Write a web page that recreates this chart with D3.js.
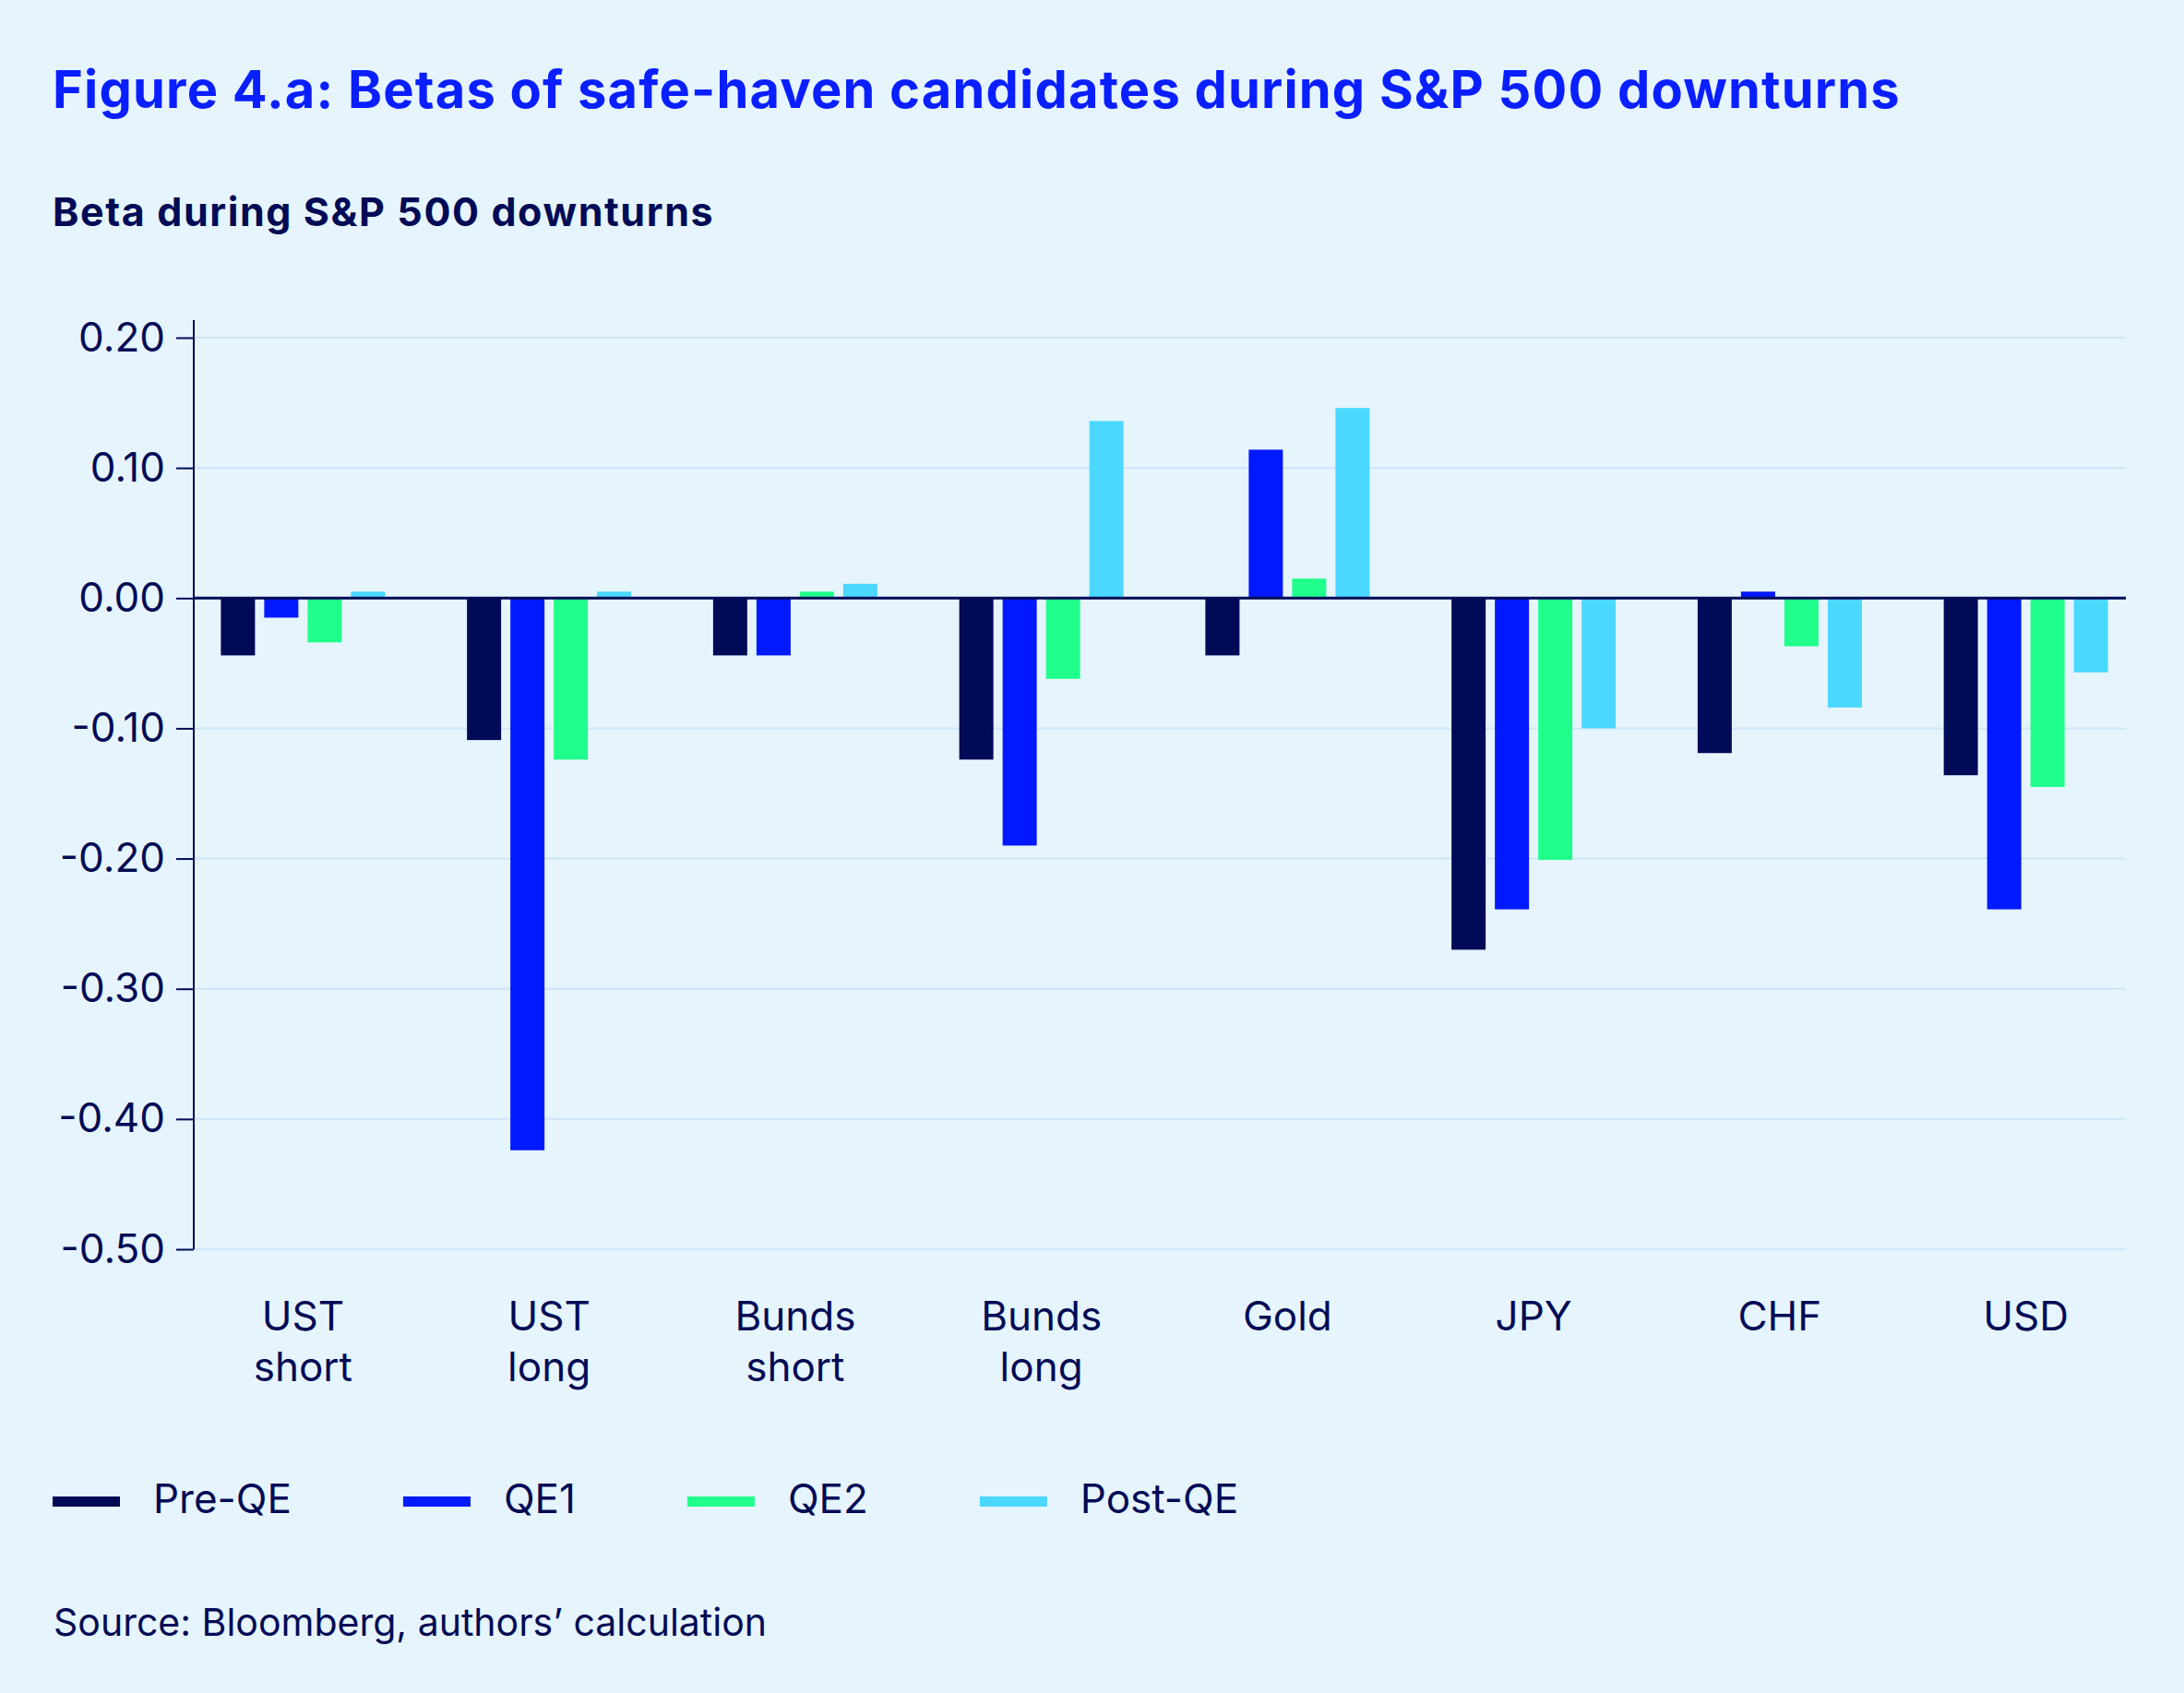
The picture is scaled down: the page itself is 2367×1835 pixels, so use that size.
<!DOCTYPE html>
<html lang="en">
  <head>
    <meta charset="UTF-8" />
    <script src="https://d3js.org/d3.v7.min.js"></script>
    <style>
      body {
        margin: 0;
        background: #e6f4fd;
      }
      text {
        font-family: Inter, "Noto Sans", sans-serif;
        fill: #020b55;
      }
    </style>
    <title>Figure 4.a</title>
  </head>
  <body>
    <svg id="chart" width="2367" height="1835"></svg>
    <script>
      // chart values
      const categories = [
        "UST short",
        "UST long",
        "Bunds short",
        "Bunds long",
        "Gold",
        "JPY",
        "CHF",
        "USD",
      ];
      const seriesNames = ["Pre-QE", "QE1", "QE2", "Post-QE"];
      const preQE = [-0.044, -0.109, -0.044, -0.124, -0.044, -0.27, -0.119, -0.136];
      const qe1 = [-0.015, -0.424, -0.044, -0.19, 0.114, -0.239, 0.005, -0.239];
      const qe2 = [-0.034, -0.124, 0.005, -0.062, 0.015, -0.201, -0.037, -0.145];
      const postQE = [0.005, 0.005, 0.011, 0.136, 0.146, -0.1, -0.084, -0.057];
      const yTicks = [0.2, 0.1, 0.0, -0.1, -0.2, -0.3, -0.4, -0.5];
      const colors = ["#010a56", "#0019ff", "#20ff8b", "#4bd8ff"];

      const seriesValues = [preQE, qe1, qe2, postQE];
      const rows = [];
      categories.forEach((c, i) => {
        seriesNames.forEach((s, j) => {
          rows.push({ cat: c, series: s, value: seriesValues[j][i] });
        });
      });

      const svg = d3.select("#chart");
      const plotLeft = 210,
        plotRight = 2304;

      const y = d3.scaleLinear().domain([-0.5, 0.2]).range([1354, 366]);
      const x = d3.scaleBand().domain(categories).range([195, 2329]).padding(0);
      const inner = d3
        .scaleBand()
        .domain(seriesNames)
        .range([-89, 89])
        .paddingInner(0.213)
        .paddingOuter(0);
      const color = d3.scaleOrdinal().domain(seriesNames).range(colors);

      // title + subtitle
      svg
        .append("text")
        .attr("x", 57)
        .attr("y", 117)
        .style("font-size", "56px")
        .style("font-weight", 700)
        .style("letter-spacing", "1.2px")
        .style("fill", "#0a1fff")
        .text("Figure 4.a: Betas of safe-haven candidates during S&P 500 downturns");

      svg
        .append("text")
        .attr("x", 57)
        .attr("y", 245)
        .style("font-size", "43px")
        .style("font-weight", 700)
        .style("letter-spacing", "1.6px")
        .text("Beta during S&P 500 downturns");

      // gridlines
      svg
        .append("g")
        .selectAll("line")
        .data(yTicks.filter((d) => d !== 0))
        .join("line")
        .attr("x1", plotLeft)
        .attr("x2", plotRight)
        .attr("y1", (d) => y(d))
        .attr("y2", (d) => y(d))
        .attr("stroke", "#cde5f8")
        .attr("stroke-width", 2);

      // y axis
      const yAxis = svg
        .append("g")
        .attr("transform", `translate(${plotLeft},0)`)
        .call(
          d3
            .axisLeft(y)
            .tickValues(yTicks)
            .tickFormat((d) => d3.format(".2f")(d).replace("−", "-"))
            .tickSize(19)
            .tickSizeOuter(0)
            .tickPadding(12)
        );
      yAxis.select(".domain").remove();
      yAxis.selectAll(".tick line").attr("stroke", "#020b55").attr("stroke-width", 2);
      yAxis
        .selectAll(".tick text")
        .attr("font-family", null)
        .style("font-size", "44px")
        .attr("fill", null);
      yAxis
        .append("line")
        .attr("y1", 347)
        .attr("y2", y(-0.5))
        .attr("stroke", "#020b55")
        .attr("stroke-width", 2);

      // bars
      svg
        .append("g")
        .selectAll("rect")
        .data(rows)
        .join("rect")
        .attr("x", (d) => x(d.cat) + x.bandwidth() / 2 + inner(d.series))
        .attr("width", inner.bandwidth())
        .attr("y", (d) => y(Math.max(0, d.value)))
        .attr("height", (d) => Math.abs(y(d.value) - y(0)))
        .attr("fill", (d) => color(d.series));

      // zero line
      svg
        .append("line")
        .attr("x1", plotLeft)
        .attr("x2", plotRight)
        .attr("y1", y(0))
        .attr("y2", y(0))
        .attr("stroke", "#020b55")
        .attr("stroke-width", 3);

      // category labels
      const xLabels = svg
        .append("g")
        .selectAll("text")
        .data(categories)
        .join("text")
        .attr("x", (d) => x(d) + x.bandwidth() / 2)
        .attr("y", 1442)
        .attr("text-anchor", "middle")
        .style("font-size", "44px");
      xLabels
        .selectAll("tspan")
        .data((d) => d.split(" "))
        .join("tspan")
        .attr("x", function () {
          return d3.select(this.parentNode).attr("x");
        })
        .attr("dy", (d, i) => (i === 0 ? 0 : 55))
        .text((d) => d);

      // legend
      const legend = svg.append("g").attr("transform", "translate(57,1622)");
      let lx = 0;
      seriesNames.forEach((s) => {
        const item = legend.append("g").attr("transform", `translate(${lx},0)`);
        item
          .append("rect")
          .attr("width", 73)
          .attr("height", 11)
          .attr("fill", color(s));
        const t = item
          .append("text")
          .attr("x", 109)
          .attr("y", 18)
          .style("font-size", "44px")
          .text(s);
        lx += 109 + t.node().getComputedTextLength() + 121;
      });

      // source
      svg
        .append("text")
        .attr("x", 58)
        .attr("y", 1773)
        .style("font-size", "41px")
        .text("Source: Bloomberg, authors\u2019 calculation");
    </script>
  </body>
</html>
